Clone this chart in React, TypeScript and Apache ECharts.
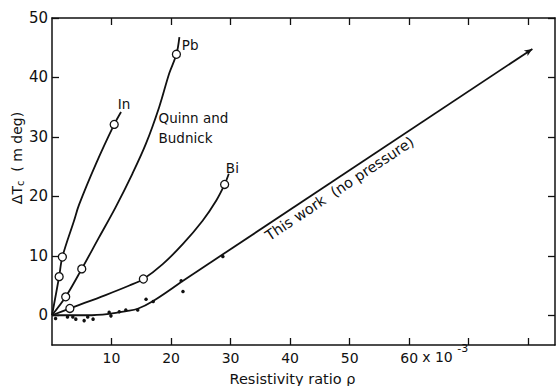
import React, { useEffect, useRef } from "react";
import * as echarts from "echarts";

// In (Quinn and Budnick)
const inCurve: number[][] = [[0, 0], [1.2, 6.5], [1.74, 9.8], [3.7, 15.9], [4.55, 18.6], [7.4, 25.5], [10.45, 32.1], [11.6, 34.2]];
const inCircles: number[][] = [[1.2, 6.5], [1.74, 9.8], [10.45, 32.1]];
// Pb
const pbCurve: number[][] = [[0, 0], [2.3, 3.1], [5.0, 7.8], [7.9, 13.1], [10.7, 18.2], [13.5, 23.8], [15.8, 28.9], [18.0, 35.0], [19.7, 40.7], [20.9, 43.9], [21.4, 46.8]];
const pbCircles: number[][] = [[2.3, 3.1], [5.0, 7.8], [20.9, 43.9]];
// Bi
const biCurve: number[][] = [[0, 0], [3.0, 1.15], [9.0, 3.4], [13.0, 5.0], [15.35, 6.1], [18.6, 8.6], [22.0, 12.0], [25.3, 15.9], [27.6, 19.3], [29.0, 22.0], [29.7, 23.8]];
const biCircles: number[][] = [[3.0, 1.15], [15.35, 6.1], [29.0, 22.0]];
// This work (no pressure)
const workCurve: number[][] = [[0, 0], [6, 0], [9.6, 0.25], [12.5, 0.7], [14.4, 1.1], [17.0, 2.4], [21.7, 5.6]];
const workLine: number[][] = [[21.7, 5.6], [80.7, 44.8]];
const workDots: number[][] = [
  [0.6, -0.55], [2.6, -0.3], [3.5, -0.3], [4.0, -0.65], [5.4, -0.9], [6.0, -0.3], [6.9, -0.65],
  [9.6, 0.5], [9.9, -0.1], [11.3, 0.6], [12.4, 0.9], [14.4, 0.9], [15.8, 2.7], [17.0, 2.3],
  [21.7, 5.8], [22.0, 4.0], [28.7, 9.9],
];

const xTicks = [10, 20, 30, 40, 50, 60, 70, 80];
const xLabels = [10, 20, 30, 40, 50, 60];
const yTicks = [0, 10, 20, 30, 40, 50];

const FONT = "DejaVu Sans";
const INK = "#111";

export default function App() {
  const ref = useRef<HTMLDivElement>(null);
  useEffect(() => {
    if (!ref.current) return;
    const chart = echarts.init(ref.current, null, { renderer: "svg" });
    const axisCommon = {
      axisLine: { show: true, onZero: false, lineStyle: { color: INK, width: 1.5 } },
      splitLine: { show: false },
    };
    const lineSeries = (data: number[][], smooth: number | boolean) => ({
      type: "line",
      data,
      smooth,
      showSymbol: false,
      symbol: "none",
      lineStyle: { color: INK, width: 1.8 },
      silent: true,
      z: 2,
    });
    const circles = (data: number[][]) => ({
      type: "scatter",
      data,
      symbol: "circle",
      symbolSize: 8,
      itemStyle: { color: "#fff", borderColor: INK, borderWidth: 1.3, opacity: 1 },
      z: 5,
    });
    const angle = 33.6;
    const option: any = {
      animation: false,
      backgroundColor: "#fff",
      grid: { left: 52, top: 18, right: 2, bottom: 41, containLabel: false },
      xAxis: [
        {
          type: "value", min: 0, max: 84.5, position: "bottom",
          ...axisCommon,
          axisTick: { show: true, inside: true, length: 7, customValues: xTicks, lineStyle: { color: INK, width: 1.3 } },
          axisLabel: { show: true, customValues: xLabels, margin: 6, color: INK, fontSize: 14, fontFamily: FONT },
        },
        {
          type: "value", min: 0, max: 84.5, position: "top",
          ...axisCommon,
          axisTick: { show: true, inside: true, length: 7, customValues: xTicks, lineStyle: { color: INK, width: 1.3 } },
          axisLabel: { show: false },
        },
      ],
      yAxis: [
        {
          type: "value", min: -5, max: 50, position: "left",
          ...axisCommon,
          axisTick: { show: true, inside: true, length: 7, customValues: yTicks, lineStyle: { color: INK, width: 1.3 } },
          axisLabel: { show: true, customValues: yTicks, margin: 4, color: INK, fontSize: 15, fontFamily: FONT },
        },
        {
          type: "value", min: -5, max: 50, position: "right",
          ...axisCommon,
          axisTick: { show: true, inside: true, length: 7, customValues: yTicks, lineStyle: { color: INK, width: 1.3 } },
          axisLabel: { show: false },
        },
      ],
      series: [
        lineSeries(inCurve, 0.35),
        lineSeries(pbCurve, 0.35),
        lineSeries(biCurve, 0.35),
        lineSeries(workCurve, 0.35),
        {
          ...lineSeries(workLine, false),
          showSymbol: true,
          data: [
            { value: workLine[0], symbol: "none" },
            { value: workLine[1], symbol: "arrow", symbolSize: [5, 8], symbolRotate: -(90 - angle), itemStyle: { color: INK, opacity: 1 } },
          ],
        },
        circles(inCircles),
        circles(pbCircles),
        circles(biCircles),
        {
          type: "scatter",
          data: workDots,
          symbol: "circle",
          symbolSize: 3.5,
          itemStyle: { color: INK, opacity: 1 },
          z: 6,
        },
      ],
    };
    chart.setOption(option);

    const px = (x: number, y: number) => chart.convertToPixel({ gridIndex: 0 }, [x, y]) as number[];
    const textStyle = (extra: any) => ({ fill: INK, fontFamily: FONT, fontSize: 14, ...extra });
    const p60 = px(60, -5);
    const pIn = px(12.1, 35.6);
    const pPb = px(21.8, 45.4);
    const pQ = px(17.9, 31.45);
    const pBi = px(30.3, 24.7);
    const pWork = px(48.3, 21.3);
    const pAxisMid = px(40.4, -5);
    chart.setOption({
      graphic: [
        { type: "text", x: p60[0] + 13, y: p60[1] + 12, style: textStyle({ text: "x 10", textAlign: "left", textVerticalAlign: "middle", fontSize: 14 }) },
        { type: "text", x: p60[0] + 48, y: p60[1] + 3, style: textStyle({ text: "-3", textAlign: "left", textVerticalAlign: "middle", fontSize: 11 }) },
        { type: "text", x: pIn[0], y: pIn[1], style: textStyle({ text: "In", textAlign: "center", textVerticalAlign: "middle", fontSize: 13.5 }) },
        { type: "text", x: pPb[0], y: pPb[1], style: textStyle({ text: "Pb", textAlign: "left", textVerticalAlign: "middle", fontSize: 13.5 }) },
        { type: "text", x: pQ[0], y: pQ[1], style: textStyle({ text: "Quinn and\nBudnick", textAlign: "left", textVerticalAlign: "middle", fontSize: 13.5, lineHeight: 20 }) },
        { type: "text", x: pBi[0], y: pBi[1], style: textStyle({ text: "Bi", textAlign: "center", textVerticalAlign: "middle", fontSize: 13.5 }) },
        {
          type: "text", x: pWork[0], y: pWork[1], rotation: (angle * Math.PI) / 180,
          style: textStyle({ text: "This work  (no pressure)", textAlign: "center", textVerticalAlign: "middle", fontSize: 14.5 }),
        },
        { type: "text", x: pAxisMid[0], y: pAxisMid[1] + 34, style: textStyle({ text: "Resistivity ratio ρ", textAlign: "center", textVerticalAlign: "middle", fontSize: 14.5 }) },
        {
          type: "text", x: 17, y: 158, rotation: Math.PI / 2,
          style: {
            text: "{a|ΔT}{b|c}{a|  ( m deg)}",
            textAlign: "center", textVerticalAlign: "middle", fill: INK, fontFamily: FONT,
            rich: {
              a: { fontSize: 14, fontFamily: FONT, fill: INK },
              b: { fontSize: 10, fontFamily: FONT, fill: INK, padding: [6, 0, 0, 0] },
            },
          },
        },
      ],
    });
    return () => chart.dispose();
  }, []);
  return <div ref={ref} style={{ width: 557, height: 386, position: "absolute", left: 0, top: 0 }} />;
}
